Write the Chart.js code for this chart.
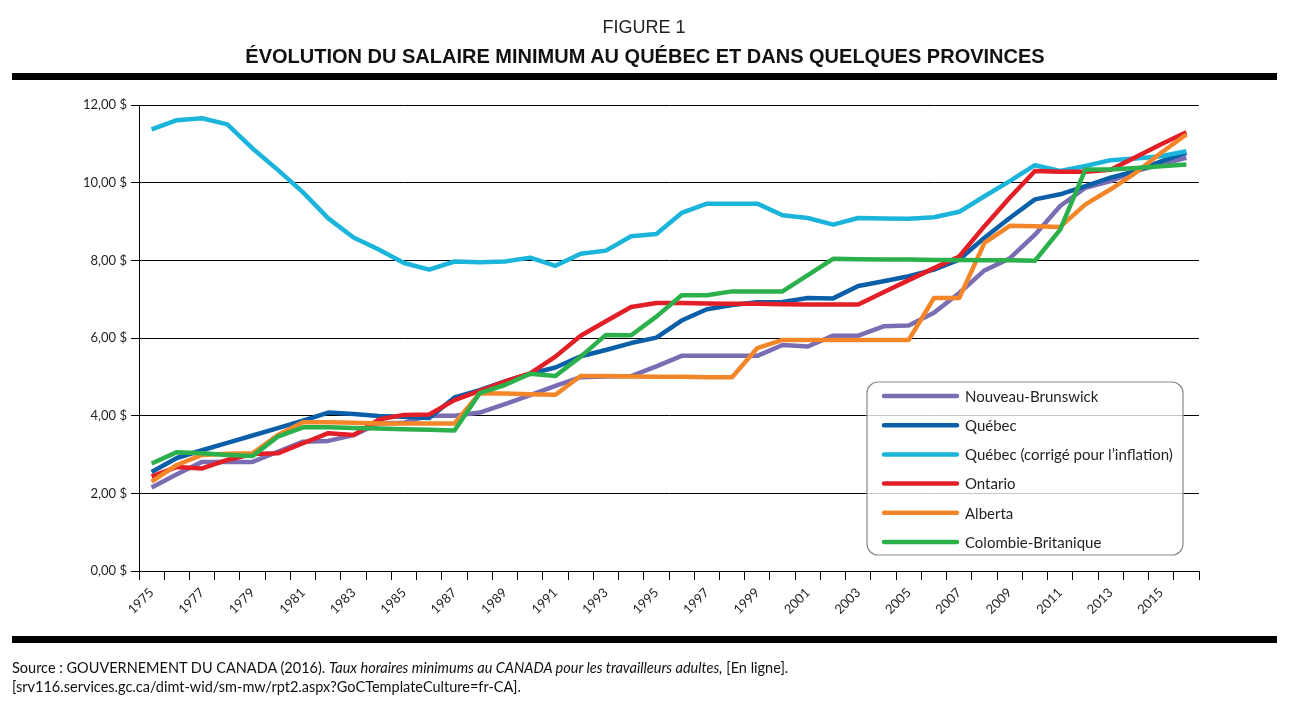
<!DOCTYPE html>
<html lang="fr">
<head>
<meta charset="utf-8">
<title>Évolution du salaire minimum</title>
<script src="https://cdn.jsdelivr.net/npm/chart.js@4.4.1/dist/chart.umd.min.js"></script>
<style>
    html, body { margin: 0; padding: 0; background: #fff; }
    #page { position: relative; width: 1293px; height: 714px; overflow: hidden; background: #fff; }
    #graphique { position: absolute; left: 0; top: 0; }
    .surtitre { position: absolute; left: 0; width: 1288px; top: 18px; text-align: center;
        font: 18px/18px "Liberation Sans", Arial, sans-serif; color: #222; }
    .titre { position: absolute; left: 0; width: 1290px; top: 46px; text-align: center;
        font: bold 20px/20px "Liberation Sans", Arial, sans-serif; color: #111; }
    .regle { position: absolute; left: 12px; width: 1265px; height: 7px; background: #000; }
    .source { position: absolute; left: 12px; top: 658px; font: 14.5px/19px Lato, "Open Sans", sans-serif; color: #111; }
</style>
</head>
<body>
<div id="page">
    <canvas id="graphique" width="1293" height="714"></canvas>
    <div class="surtitre">FIGURE 1</div>
    <div class="titre">ÉVOLUTION DU SALAIRE MINIMUM AU QUÉBEC ET DANS QUELQUES PROVINCES</div>
    <div class="regle" style="top:73px"></div>
    <div class="regle" style="top:636px"></div>
    <div class="source">
        Source&#8239;: GOUVERNEMENT DU CANADA (2016). <i>Taux horaires minimums au CANADA pour les travailleurs adultes,</i> [En ligne].<br>
        [srv116.services.gc.ca/dimt-wid/sm-mw/rpt2.aspx?GoCTemplateCulture=fr-CA].
    </div>
</div>
<script>
// Données
const annees = [1975, 1976, 1977, 1978, 1979, 1980, 1981, 1982, 1983, 1984, 1985, 1986, 1987, 1988,
    1989, 1990, 1991, 1992, 1993, 1994, 1995, 1996, 1997, 1998, 1999, 2000, 2001, 2002,
    2003, 2004, 2005, 2006, 2007, 2008, 2009, 2010, 2011, 2012, 2013, 2014, 2015, 2016];

const nouveauBrunswick = [2.15, 2.49, 2.81, 2.81, 2.81, 3.07, 3.33, 3.35, 3.50, 3.80, 3.82, 4.00, 4.00, 4.08,
    4.30, 4.53, 4.77, 4.99, 5.01, 5.02, 5.27, 5.54, 5.54, 5.54, 5.54, 5.82, 5.78, 6.06,
    6.06, 6.30, 6.32, 6.65, 7.16, 7.74, 8.05, 8.66, 9.40, 9.87, 10.04, 10.30, 10.47, 10.64];

const quebec = [2.55, 2.91, 3.11, 3.30, 3.49, 3.68, 3.87, 4.08, 4.04, 3.99, 3.97, 3.94, 4.47, 4.66,
    4.88, 5.08, 5.24, 5.53, 5.69, 5.87, 6.01, 6.45, 6.74, 6.85, 6.92, 6.93, 7.03, 7.02,
    7.34, 7.46, 7.59, 7.76, 8.02, 8.58, 9.09, 9.57, 9.70, 9.91, 10.13, 10.30, 10.55, 10.77];

const quebecInflation = [11.37, 11.61, 11.66, 11.50, 10.88, 10.33, 9.75, 9.08, 8.59, 8.28, 7.93, 7.76, 7.97, 7.95,
    7.97, 8.07, 7.86, 8.17, 8.25, 8.62, 8.68, 9.22, 9.46, 9.46, 9.46, 9.16, 9.09, 8.92,
    9.09, 9.08, 9.07, 9.11, 9.25, 9.65, 10.04, 10.45, 10.30, 10.43, 10.58, 10.62, 10.68, 10.81];

const ontario = [2.43, 2.68, 2.64, 2.86, 3.01, 3.03, 3.29, 3.55, 3.50, 3.90, 4.02, 4.03, 4.40, 4.64,
    4.88, 5.09, 5.52, 6.06, 6.43, 6.80, 6.90, 6.90, 6.89, 6.88, 6.88, 6.87, 6.86, 6.86,
    6.86, 7.18, 7.49, 7.80, 8.10, 8.88, 9.61, 10.30, 10.28, 10.28, 10.33, 10.66, 10.99, 11.30];

const alberta = [2.30, 2.73, 2.99, 3.02, 3.03, 3.50, 3.83, 3.83, 3.82, 3.80, 3.80, 3.80, 3.80, 4.58,
    4.57, 4.55, 4.54, 5.02, 5.02, 5.01, 5.00, 5.00, 4.99, 4.99, 5.74, 5.95, 5.95, 5.95,
    5.95, 5.95, 5.95, 7.03, 7.03, 8.45, 8.89, 8.88, 8.86, 9.44, 9.83, 10.26, 10.77, 11.24];

const colombieBritannique = [2.77, 3.06, 3.03, 2.99, 2.96, 3.46, 3.70, 3.70, 3.68, 3.67, 3.65, 3.64, 3.62, 4.58,
    4.79, 5.08, 5.02, 5.52, 6.08, 6.07, 6.55, 7.10, 7.10, 7.20, 7.20, 7.20, 7.62, 8.04,
    8.03, 8.02, 8.02, 8.01, 8.01, 8.00, 8.00, 7.99, 8.79, 10.34, 10.34, 10.38, 10.42, 10.47];

const graduationsY = [0, 2, 4, 6, 8, 10, 12];

const police = "Lato, 'Open Sans', sans-serif";

// Légende encadrée dans la zone du graphique
const legendeEncadre = {
    id: "legendeEncadre",
    afterDatasetsDraw(chart) {
        const { ctx, chartArea } = chart;
        const x = chartArea.left + 728;
        const y = chartArea.top + 277;
        const w = 316, h = 173, r = 11;

        ctx.save();
        ctx.beginPath();
        ctx.moveTo(x + r, y);
        ctx.arcTo(x + w, y, x + w, y + h, r);
        ctx.arcTo(x + w, y + h, x, y + h, r);
        ctx.arcTo(x, y + h, x, y, r);
        ctx.arcTo(x, y, x + w, y, r);
        ctx.closePath();
        ctx.fillStyle = "rgba(255,255,255,0.78)";
        ctx.fill();
        ctx.strokeStyle = "#8a8a8a";
        ctx.lineWidth = 1.2;
        ctx.stroke();

        ctx.font = "15px " + police;
        ctx.textBaseline = "middle";
        ctx.fillStyle = "#231f20";
        chart.data.datasets.forEach((ds, i) => {
            const ly = y + 14 + i * 29.2;
            ctx.beginPath();
            ctx.moveTo(x + 17, ly);
            ctx.lineTo(x + 90, ly);
            ctx.strokeStyle = ds.borderColor;
            ctx.lineWidth = 4.5;
            ctx.lineCap = "round";
            ctx.stroke();
            ctx.fillText(ds.label, x + 98, ly + 1);
        });
        ctx.restore();
    }
};

function serie(label, data, couleur, ordre) {
    return { label, data, borderColor: couleur, backgroundColor: couleur, order: ordre };
}

const ctx = document.getElementById("graphique").getContext("2d");

new Chart(ctx, {
    type: "line",
    data: {
        labels: annees,
        datasets: [
            serie("Nouveau-Brunswick", nouveauBrunswick, "#7a6db3", 5),
            serie("Québec", quebec, "#0b5fa8", 4),
            serie("Québec (corrigé pour l’inflation)", quebecInflation, "#1bb4da", 3),
            serie("Ontario", ontario, "#e21f26", 2),
            serie("Alberta", alberta, "#f4862a", 1),
            serie("Colombie-Britanique", colombieBritannique, "#2cb04b", 0)
        ]
    },
    options: {
        responsive: false,
        animation: false,
        layout: { padding: { top: 105, right: 94, bottom: 83, left: 0 } },
        plugins: {
            legend: { display: false },
            tooltip: { enabled: false }
        },
        elements: {
            point: { radius: 0 },
            line: { tension: 0, borderWidth: 4.5, borderJoinStyle: "round", borderCapStyle: "butt", fill: false }
        },
        scales: {
            x: {
                offset: true,
                grid: { offset: true, drawOnChartArea: false, color: "#000", lineWidth: 1, tickLength: 9 },
                border: { color: "#000", width: 1 },
                ticks: {
                    autoSkip: false,
                    minRotation: 45,
                    maxRotation: 45,
                    padding: 5,
                    color: "#231f20",
                    font: { family: police, size: 13 },
                    callback: function (v, i) { return i % 2 === 0 ? String(annees[i]) : ""; }
                },
                afterFit: (s) => { s.height = 60; }
            },
            y: {
                min: graduationsY[0],
                max: graduationsY[graduationsY.length - 1],
                afterBuildTicks: (s) => { s.ticks = graduationsY.map(v => ({ value: v })); },
                grid: { color: "#000", lineWidth: 1, tickLength: 8 },
                border: { color: "#000", width: 1 },
                ticks: {
                    padding: 4,
                    color: "#231f20",
                    font: { family: police, size: 13 },
                    callback: (v) => v.toFixed(2).replace(".", ",") + "\u00a0$"
                },
                afterFit: (s) => { s.width = 139; }
            }
        }
    },
    plugins: [legendeEncadre]
});
</script>
</body>
</html>
